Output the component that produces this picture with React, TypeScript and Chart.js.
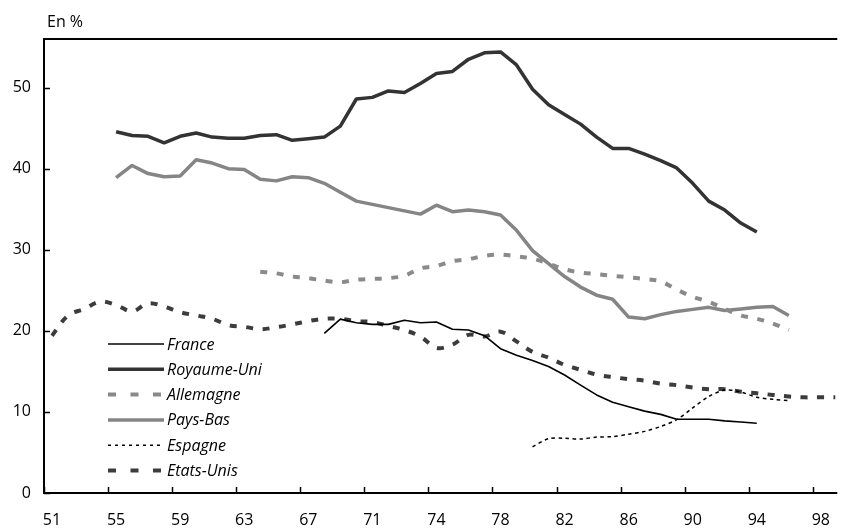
import React, { useEffect, useRef } from "react";
import { Chart, registerables } from "chart.js";

Chart.register(...registerables);

// Categories (years, 1973 appears twice in the source series)
const categories = [
  "51", "52", "53", "54", "55", "56", "57", "58", "59", "60",
  "61", "62", "63", "64", "65", "66", "67", "68", "69", "70",
  "71", "72", "73", "73b", "74", "75", "76", "77", "78", "79",
  "80", "81", "82", "83", "84", "85", "86", "87", "88", "89",
  "90", "91", "92", "93", "94", "95", "96", "97", "98", "99",
];

const tickLabels = ["51", "55", "59", "63", "67", "71", "74", "78", "82", "86", "90", "94", "98"];
const yTickValues = [0, 10, 20, 30, 40, 50];

const franceFrom = "68";
const franceValues = [
  19.7, 21.45, 21.0, 20.8, 20.8, 21.3, 21.0, 21.1, 20.2, 20.1,
  19.4, 17.8, 17.0, 16.35, 15.6, 14.55, 13.3, 12.1, 11.2, 10.65,
  10.1, 9.7, 9.1, 9.1, 9.1, 8.9, 8.75, 8.6,
];

const ukFrom = "55";
const ukValues = [
  44.55, 44.1, 44.0, 43.2, 44.0, 44.4, 43.9, 43.75, 43.75, 44.1,
  44.2, 43.5, 43.7, 43.9, 45.25, 48.6, 48.8, 49.6, 49.4, 50.5,
  51.75, 52.0, 53.5, 54.3, 54.4, 52.8, 49.8, 47.9, 46.7, 45.5,
  43.9, 42.5, 42.5, 41.8, 41.0, 40.1, 38.2, 36.0, 34.9, 33.3,
  32.2,
];

const germanyFrom = "64";
const germanyValues = [
  27.3, 27.1, 26.7, 26.5, 26.2, 26.0, 26.3, 26.4, 26.5, 26.8,
  27.7, 28.0, 28.6, 28.85, 29.25, 29.4, 29.2, 28.9, 28.3, 27.6,
  27.2, 27.0, 26.8, 26.6, 26.4, 26.1, 25.1, 24.2, 23.6, 22.7,
  21.9, 21.5, 20.9, 20.1,
];

const netherlandsFrom = "55";
const netherlandsValues = [
  38.9, 40.4, 39.4, 39.0, 39.1, 41.1, 40.7, 40.0, 39.9, 38.7,
  38.5, 39.0, 38.9, 38.2, 37.1, 36.0, 35.6, 35.2, 34.8, 34.4,
  35.5, 34.7, 34.9, 34.7, 34.3, 32.4, 29.9, 28.3, 26.7, 25.4,
  24.4, 23.9, 21.7, 21.5, 22.0, 22.4, 22.65, 22.9, 22.5, 22.7,
  22.9, 23.0, 21.9,
];

const spainFrom = "80";
const spainValues = [
  5.7, 6.7, 6.75, 6.65, 6.9, 6.95, 7.25, 7.6, 8.2, 9.05,
  10.5, 11.9, 12.7, 12.45, 11.8, 11.55, 11.4,
];

const usFrom = "51";
const usValues = [
  19.4, 21.9, 22.7, 23.6, 23.2, 22.4, 23.4, 23.0, 22.3, 21.9,
  21.5, 20.7, 20.5, 20.2, 20.45, 20.8, 21.2, 21.5, 21.5, 21.2,
  21.1, 20.6, 20.1, 19.3, 17.9, 18.3, 19.5, 19.3, 19.9, 18.7,
  17.4, 16.7, 15.8, 15.2, 14.6, 14.3, 14.05, 13.85, 13.5, 13.3,
  13.0, 12.8, 12.8, 12.5, 12.3, 12.1, 11.9, 11.8, 11.8, 11.8,
];

const FONT = "'Open Sans', Lato, sans-serif";
const FONT_SIZE = 16;

function toPoints(from: string, values: number[]) {
  const start = categories.indexOf(from);
  return values.map((v, i) => ({ x: start + i + 0.5, y: v }));
}

type Style = {
  label: string;
  color: string;
  width: number;
  dash: number[];
  legendDash: number[];
  tension: number;
};

const styles: Style[] = [
  { label: "France", color: "#000000", width: 1.6, dash: [], legendDash: [], tension: 0 },
  { label: "Royaume-Uni", color: "#333333", width: 3.5, dash: [], legendDash: [], tension: 0 },
  { label: "Allemagne", color: "#8a8a8a", width: 4, dash: [7, 9.5], legendDash: [8, 14.5], tension: 0.35 },
  { label: "Pays-Bas", color: "#858585", width: 3.5, dash: [], legendDash: [], tension: 0 },
  { label: "Espagne", color: "#000000", width: 1.5, dash: [3.5, 3.5], legendDash: [3, 4], tension: 0.3 },
  { label: "Etats-Unis", color: "#3c3c3c", width: 4, dash: [7, 9.5], legendDash: [8, 14.5], tension: 0.35 },
];

const seriesPoints = [
  toPoints(franceFrom, franceValues),
  toPoints(ukFrom, ukValues),
  toPoints(germanyFrom, germanyValues),
  toPoints(netherlandsFrom, netherlandsValues),
  toPoints(spainFrom, spainValues),
  toPoints(usFrom, usValues),
];

const framePlugin = {
  id: "framePlugin",
  afterDatasetsDraw(chart: any) {
    const { ctx, chartArea } = chart;
    const xs = chart.scales.x;
    const ys = chart.scales.y;
    const { left, right, top, bottom } = chartArea;
    ctx.save();
    ctx.strokeStyle = "#000";
    ctx.setLineDash([]);
    ctx.lineCap = "butt";
    // frame
    ctx.lineWidth = 2;
    ctx.beginPath();
    ctx.moveTo(left, top);
    ctx.lineTo(right + 2, top);
    ctx.moveTo(left, top - 1);
    ctx.lineTo(left, bottom + 1);
    ctx.moveTo(left - 1, bottom);
    ctx.lineTo(right + 2, bottom);
    ctx.stroke();
    // inward ticks
    ctx.lineWidth = 1.5;
    ctx.beginPath();
    yTickValues.forEach((v) => {
      const py = Math.round(ys.getPixelForValue(v)) + 0.5;
      ctx.moveTo(left, py);
      ctx.lineTo(left + 6, py);
    });
    tickLabels.forEach((l) => {
      const px = Math.round(xs.getPixelForValue(categories.indexOf(l))) + 0.5;
      ctx.moveTo(px, bottom);
      ctx.lineTo(px, bottom - 6);
    });
    ctx.stroke();

    // unit label
    ctx.fillStyle = "#000";
    ctx.font = `${FONT_SIZE}px ${FONT}`;
    ctx.textAlign = "left";
    ctx.textBaseline = "middle";
    ctx.fillText("En %", 47, 22);

    // legend
    const lx0 = 108;
    const lx1 = 164;
    const ly0 = 344;
    const step = 25.3;
    styles.forEach((s, i) => {
      const y = ly0 + i * step;
      ctx.strokeStyle = s.color;
      ctx.lineWidth = s.width;
      ctx.setLineDash(s.legendDash);
      ctx.beginPath();
      ctx.moveTo(lx0, y);
      ctx.lineTo(lx1, y);
      ctx.stroke();
      ctx.setLineDash([]);
      ctx.fillStyle = "#000";
      ctx.font = `italic ${FONT_SIZE}px ${FONT}`;
      ctx.fillText(s.label, 167, y + 1);
    });
    ctx.restore();
  },
};

export default function App() {
  const canvasRef = useRef<HTMLCanvasElement | null>(null);

  useEffect(() => {
    const canvas = canvasRef.current;
    if (!canvas) return;
    const chart = new Chart(canvas, {
      type: "line",
      data: {
        datasets: styles.map((s, i) => ({
          label: s.label,
          data: seriesPoints[i],
          borderColor: s.color,
          backgroundColor: s.color,
          borderWidth: s.width,
          borderDash: s.dash,
          borderCapStyle: "butt" as const,
          borderJoinStyle: "round" as const,
          pointRadius: 0,
          tension: s.tension,
          fill: false,
          spanGaps: false,
        })),
      },
      options: {
        animation: false,
        responsive: false,
        devicePixelRatio: 1,
        events: [],
        layout: { padding: { top: 39, left: 0, right: 0, bottom: 0 } },
        plugins: {
          legend: { display: false },
          tooltip: { enabled: false },
          title: { display: false },
        },
        scales: {
          x: {
            type: "linear",
            min: 0,
            max: 49.4,
            grid: { display: false, drawTicks: false },
            border: { display: false },
            afterBuildTicks: (scale: any) => {
              scale.ticks = tickLabels.map((l) => ({ value: categories.indexOf(l) + 0.5 }));
            },
            afterFit: (scale: any) => {
              scale.height = 35;
            },
            ticks: {
              autoSkip: false,
              maxRotation: 0,
              minRotation: 0,
              padding: 18,
              color: "#000",
              font: { family: FONT, size: FONT_SIZE },
              callback: (_v: any, index: number) => tickLabels[index],
            },
          },
          y: {
            type: "linear",
            min: 0,
            max: 56,
            grid: { display: false, drawTicks: false },
            border: { display: false },
            afterBuildTicks: (scale: any) => {
              scale.ticks = yTickValues.map((v) => ({ value: v }));
            },
            afterFit: (scale: any) => {
              scale.width = 44;
            },
            ticks: {
              padding: 13,
              color: "#000",
              font: { family: FONT, size: FONT_SIZE },
              callback: (v: any) => String(v),
            },
          },
        },
      },
      plugins: [framePlugin],
    });
    return () => chart.destroy();
  }, []);

  return (
    <div style={{ position: "fixed", left: 0, top: 0, width: 848, height: 528, background: "#fff" }}>
      <canvas ref={canvasRef} width={848} height={528} style={{ display: "block", width: 848, height: 528 }} />
    </div>
  );
}
